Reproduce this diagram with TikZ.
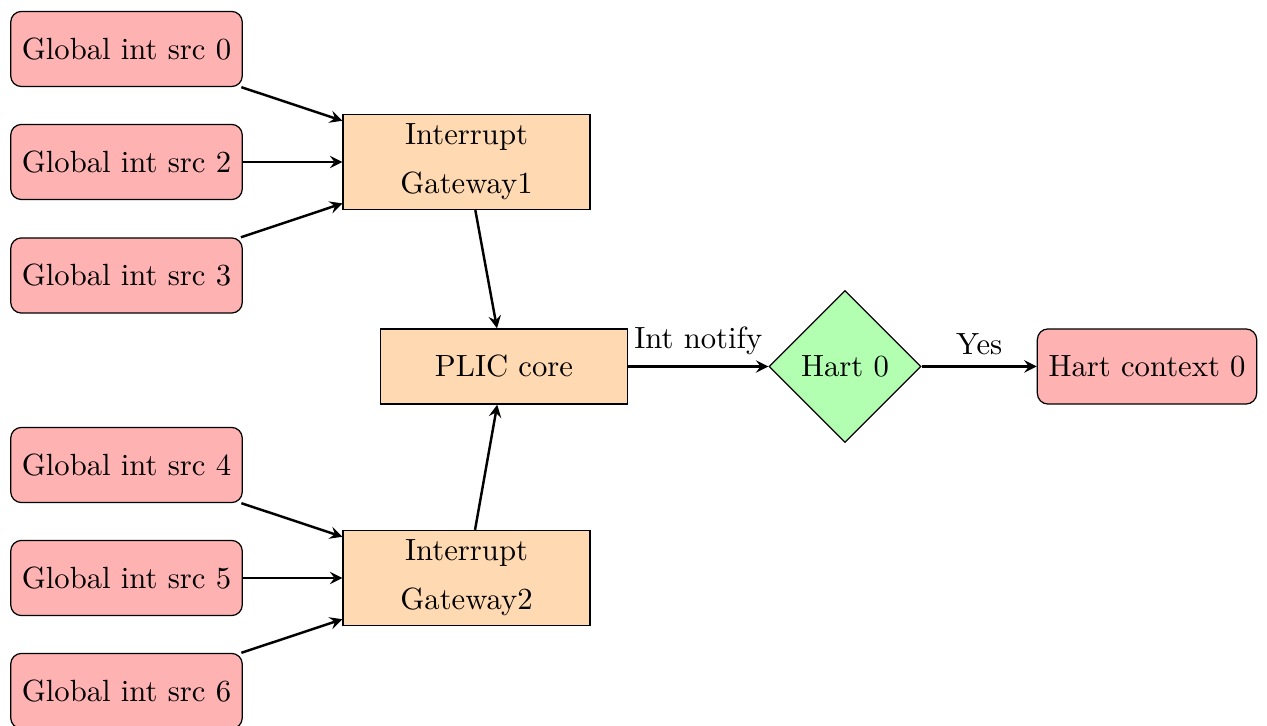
\documentclass[tikz,border=0pt]{standalone}
\usetikzlibrary{shapes.geometric,arrows}
\begin{document}
\begin{tikzpicture}[x=0.326pt,y=-0.326pt,
  src/.style={rectangle, rounded corners=3.5pt, draw=black, fill=red!30, inner sep=0pt,
    minimum width=75.5pt, minimum height=24.5pt, text centered},
  proc/.style={rectangle, draw=black, fill=orange!30, inner sep=0pt,
    minimum width=80.5pt, minimum height=31pt, align=center},
  dec/.style={diamond, draw=black, fill=green!30, inner sep=0pt, minimum width=49.5pt, minimum height=49.5pt},
  arr/.style={thick, ->, >=stealth}]
\useasboundingbox (0,0) rectangle (1267,726);
\node[src] (s0) at (126.5,49) {Global int src 0};
\node[src] (s2) at (126.5,162) {Global int src 2};
\node[src] (s3) at (126.5,275.5) {Global int src 3};
\node[src] (s4) at (126.5,465) {Global int src 4};
\node[src] (s5) at (126.5,578) {Global int src 5};
\node[src] (s6) at (126.5,691) {Global int src 6};
\node[proc] (g1) at (466.5,162) {Interrupt\\[4pt]Gateway1};
\node[proc] (g2) at (466.5,578) {Interrupt\\[4pt]Gateway2};
\node[proc, minimum height=24.5pt] (plic) at (504,366.5) {PLIC core};
\node[dec] (hart) at (845,366.5) {Hart 0};
\node[src, minimum width=71.5pt] (ctx) at (1147,366.5) {Hart context 0};
\draw[arr] (s0) -- (g1);
\draw[arr] (s2) -- (g1);
\draw[arr] (s3) -- (g1);
\draw[arr] (s4) -- (g2);
\draw[arr] (s5) -- (g2);
\draw[arr] (s6) -- (g2);
\draw[arr] (g1) -- (plic);
\draw[arr] (g2) -- (plic);
\draw[arr] (plic) -- node[above] {Int notify} (hart);
\draw[arr] (hart) -- node[above] {Yes} (ctx);
\end{tikzpicture}
\end{document}
